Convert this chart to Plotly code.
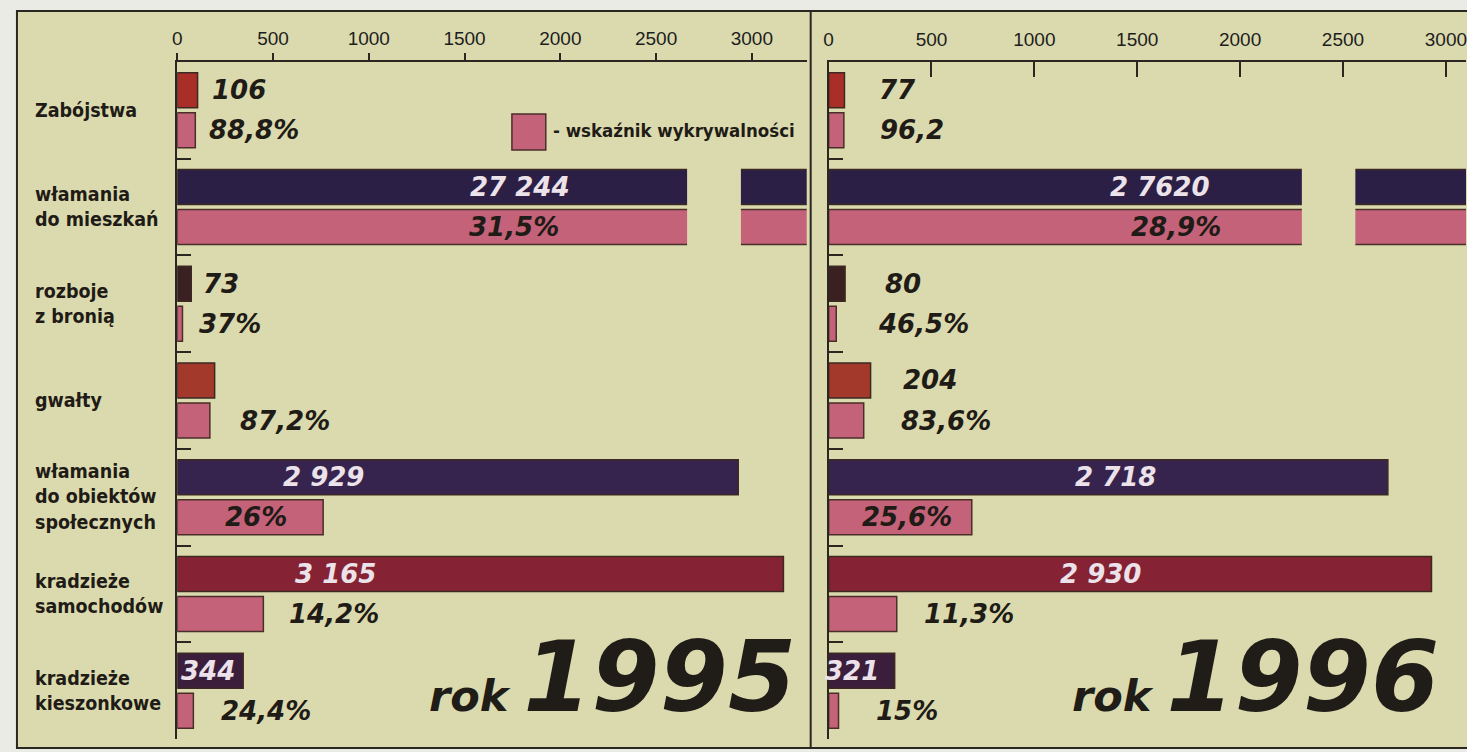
import plotly.graph_objects as go

# ---------------- data ----------------
categories = ["Zabójstwa", "włamania<br>do mieszkań", "rozboje<br>z bronią", "gwałty",
              "włamania<br>do obiektów<br>społecznych", "kradzieże<br>samochodów",
              "kradzieże<br>kieszonkowe"]
years = ["1995", "1996"]

counts_1995 = [106, 27244, 73, 195, 2929, 3165, 344]
rates_1995 = [88.8, 31.5, 37.0, 87.2, 26.0, 14.2, 24.4]
counts_1996 = [77, 27620, 80, 204, 2718, 2930, 321]
rates_1996 = [96.2, 28.9, 46.5, 83.6, 25.6, 11.3, 15.0]

count_text_1995 = ["106", "27 244", "73", "", "2 929", "3 165", "344"]
rate_text_1995 = ["88,8%", "31,5%", "37%", "87,2%", "26%", "14,2%", "24,4%"]
count_text_1996 = ["77", "2 7620", "80", "204", "2 718", "2 930", "321"]
rate_text_1996 = ["96,2", "28,9%", "46,5%", "83,6%", "25,6%", "11,3%", "15%"]

tick_vals = [0, 500, 1000, 1500, 2000, 2500, 3000]
legend_text = "- wskaźnik wykrywalności"

# ---------------- styling ----------------
W, H = 1467, 752
BG = "#dbdaae"
OUT_BG = "#ebebe6"
DARK = "#1f1b16"
PINK = "#c4627a"
main_colors = ["#a92e28", "#2c1f46", "#3a2020", "#a3392a", "#36244e", "#852334", "#3b1d3c"]
LABEL_FONT = "DejaVu Sans Condensed, Liberation Sans Narrow, sans-serif"
VAL_FONT = "DejaVu Sans, Verdana, sans-serif"
BIG_FONT = "DejaVu Sans, sans-serif"

def px_x(p):
    return p / W

def px_y(p):
    return 1 - p / H

y_dom = [px_y(739), px_y(62)]

panels = [
    dict(counts=counts_1995, rates=rates_1995, ctext=count_text_1995, rtext=rate_text_1995,
         x0=173, x1=805, scale=0.1923, xa="x", ya="y",
         gap=(2662, 2943),
         cpos=[("out", 12), ("in", 1790), ("out", 10), ("out", 12), ("in", 765), ("in", 827), ("left", 2)],
         rpos=[("out", 12), ("ind", 1758), ("out", 15), ("out", 28), ("ind", 411), ("out", 24), ("out", 26)],
         year_right=796),
    dict(counts=counts_1996, rates=rates_1996, ctext=count_text_1996, rtext=rate_text_1996,
         x0=827, x1=W, scale=0.2066, xa="x2", ya="y2",
         gap=(2300, 2560),
         cpos=[("out", 33), ("in", 1610), ("out", 38), ("out", 30), ("in", 1395), ("in", 1322), ("left", -6)],
         rpos=[("out", 34), ("ind", 1690), ("out", 40), ("out", 35), ("ind", 382), ("out", 25), ("out", 35)],
         year_right=1442),
]

fig = go.Figure()
annotations = []
shapes = []

# frame
shapes.append(dict(type="rect", xref="paper", yref="paper", x0=px_x(12), x1=1.02,
                   y0=px_y(748), y1=px_y(11), fillcolor=BG,
                   line=dict(color="#2a2620", width=2), layer="below"))
shapes.append(dict(type="line", xref="paper", yref="paper", x0=px_x(809), x1=px_x(809),
                   y0=px_y(748), y1=px_y(11), line=dict(color="#2a2620", width=2), layer="below"))

for k, p in enumerate(panels):
    detected = [c * r / 100 for c, r in zip(p["counts"], p["rates"])]
    fig.add_trace(go.Bar(y=categories, x=p["counts"], orientation="h",
                         marker=dict(color=main_colors, line=dict(color="#3c2a22", width=1.5)),
                         xaxis=p["xa"], yaxis=p["ya"], showlegend=False, hoverinfo="x+y"))
    fig.add_trace(go.Bar(y=categories, x=detected, orientation="h",
                         marker=dict(color=PINK, line=dict(color="#4a2e28", width=1.5)),
                         xaxis=p["xa"], yaxis=p["ya"], showlegend=False, hoverinfo="x+y"))

    # axis break on the very long bars
    big = max(range(len(p["counts"])), key=lambda i: p["counts"][i])
    shapes.append(dict(type="rect", xref=p["xa"], yref=p["ya"], x0=p["gap"][0], x1=p["gap"][1],
                       y0=big - 0.47, y1=big + 0.47, fillcolor=BG, line=dict(width=0), layer="above"))

    # value labels
    for i in range(len(categories)):
        for (txt, val, pos, dy) in ((p["ctext"][i], p["counts"][i], p["cpos"][i], -0.207),
                                    (p["rtext"][i], detected[i], p["rpos"][i], 0.207)):
            if not txt:
                continue
            mode, par = pos
            a = dict(xref=p["xa"], yref=p["ya"], y=i + dy, text=txt, showarrow=False,
                     yanchor="middle",
                     font=dict(family=VAL_FONT, size=26, color=DARK, weight="bold", style="italic"))
            if mode == "out":
                a.update(x=val, xanchor="left", xshift=par)
            elif mode == "in":
                a.update(x=par, xanchor="center")
                a["font"]["color"] = "#ece2ea"
            elif mode == "ind":
                a.update(x=par, xanchor="center")
            elif mode == "left":
                a.update(x=0, xanchor="left", xshift=par)
                a["font"]["color"] = "#ece2ea"
            annotations.append(a)

    # year caption
    annotations.append(dict(xref="paper", yref="paper", x=px_x(p["year_right"]), y=px_y(736),
                            xanchor="right", yanchor="bottom", showarrow=False,
                            text="<span style='font-size:43px'>rok </span>" + years[k],
                            font=dict(family=BIG_FONT, size=98, color="#201c18",
                                      weight="bold", style="italic")))

# category labels
for i, c in enumerate(categories):
    annotations.append(dict(xref="paper", yref="y", x=px_x(28), y=i, text=c, showarrow=False,
                            xanchor="left", yanchor="middle", align="left",
                            font=dict(family=LABEL_FONT, size=19.5, color=DARK, weight="bold")))

# legend
shapes.append(dict(type="rect", xref="paper", yref="paper", x0=px_x(509), x1=px_x(543),
                   y0=px_y(150), y1=px_y(114), fillcolor=PINK,
                   line=dict(color="#4a2e28", width=1.5), layer="above"))
annotations.append(dict(xref="paper", yref="paper", x=px_x(548), y=px_y(131), text=legend_text,
                        showarrow=False, xanchor="left", yanchor="middle",
                        font=dict(family=LABEL_FONT, size=18.5, color=DARK, weight="bold")))

xcommon = dict(side="top", tickvals=tick_vals, showgrid=False, zeroline=False, showline=True,
               linecolor="#2a2620", linewidth=2, tickcolor="#2a2620", tickwidth=2,
               tickfont=dict(family="Liberation Sans, Arial, sans-serif", size=19, color="#1d1d1d"),
               ticklabeloverflow="allow", fixedrange=True)
ycommon = dict(type="category", categoryorder="array", categoryarray=categories,
               range=[len(categories) - 0.5, -0.5], domain=y_dom, showticklabels=False,
               showline=True, linecolor="#2a2620", linewidth=2, ticks="inside", tickson="boundaries",
               ticklen=14, tickwidth=2, tickcolor="#2a2620", showgrid=False, zeroline=False,
               fixedrange=True)

p0, p1 = panels
fig.update_layout(
    width=W, height=H, margin=dict(l=0, r=0, t=0, b=0),
    paper_bgcolor=OUT_BG, plot_bgcolor="rgba(0,0,0,0)",
    barmode="group", bargap=0.173, bargroupgap=0.125,
    xaxis=dict(domain=[px_x(p0["x0"]), px_x(p0["x1"])],
               range=[0, (p0["x1"] - p0["x0"]) / p0["scale"]], anchor="y",
               ticks="outside", ticklen=7, ticklabelstandoff=0, **xcommon),
    xaxis3=dict(domain=[px_x(p0["x0"]), px_x(p0["x1"])], overlaying="x", matches="x",
                anchor="y", side="top", tickvals=tick_vals, ticks="inside", ticklen=12,
                tickwidth=2, tickcolor="#2a2620", showticklabels=False, showline=False,
                showgrid=False, zeroline=False),
    xaxis2=dict(domain=[px_x(p1["x0"]), px_x(p1["x1"])],
                range=[0, (p1["x1"] - p1["x0"]) / p1["scale"]], anchor="y2",
                ticks="inside", ticklen=15, ticklabelstandoff=6, **xcommon),
    yaxis=dict(anchor="x", **ycommon),
    yaxis2=dict(anchor="x2", **ycommon),
    shapes=shapes, annotations=annotations,
)

fig.write_html("out.html", config={"displayModeBar": False},
               post_script="document.body.style.margin='0';")
